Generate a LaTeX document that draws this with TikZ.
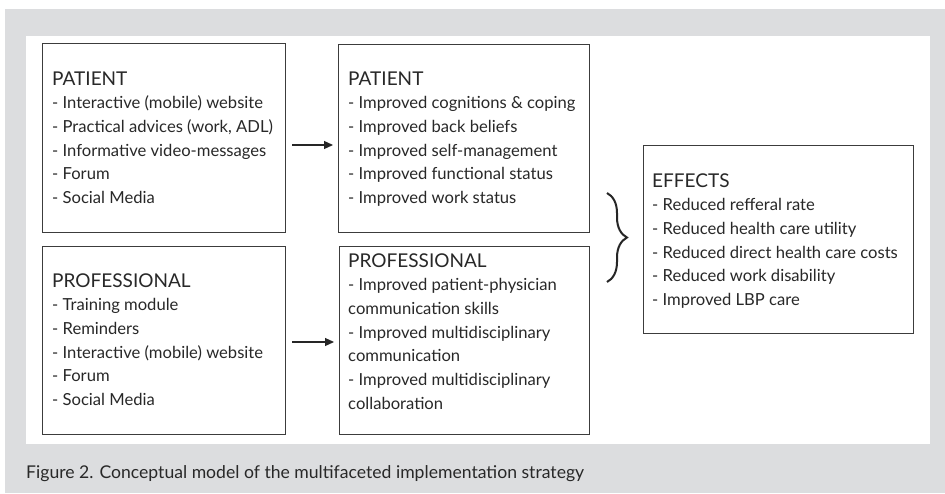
\documentclass[tikz,border=0pt]{standalone}
\usepackage{fontspec}
\setmainfont{Lato}
\usetikzlibrary{arrows.meta,decorations.pathreplacing}
\definecolor{bggray}{RGB}{220,221,223}
\definecolor{boxline}{RGB}{60,60,60}
\definecolor{txt}{RGB}{40,40,40}
\tikzset{
  boxnode/.style={draw=boxline,line width=1.2pt,fill=white,rectangle,inner sep=0pt,anchor=north west},
  listtext/.style={anchor=base west,inner sep=0pt,text=txt,font=\fontsize{16.6}{23.7}\selectfont},
  arr/.style={-{Triangle[length=9pt,width=8pt]},line width=1.2pt,draw=black!85,shorten <=6pt,shorten >=5pt},
}
\newcommand{\hd}[1]{{\fontsize{19}{23.7}\selectfont #1}}
\begin{document}
\begin{tikzpicture}[x=1pt,y=-1pt]
\useasboundingbox (0,0) rectangle (945,493);
\fill[bggray] (5,9) rectangle (945,493);
\fill[white] (26,36) rectangle (930,444);
% boxes
\node[boxnode,minimum width=243pt,minimum height=189pt] (b1) at (42,43) {};
\node[boxnode,minimum width=251pt,minimum height=188pt] (b2) at (338,44) {};
\node[boxnode,minimum width=243pt,minimum height=188pt] (b3) at (42,246) {};
\node[boxnode,minimum width=250pt,minimum height=188pt] (b4) at (339,246) {};
\node[boxnode,minimum width=270pt,minimum height=188pt] (b5) at (643,145) {};
% texts
\node[listtext] (t1) at (52,85) {\begin{tabular}[t]{@{}l@{}}\hd{PATIENT}\\
- Interactive (mobile) website\\
- Practical advices (work, ADL)\\
- Informative video-messages\\
- Forum\\
- Social Media\end{tabular}};
\node[listtext] (t2) at (348,85) {\begin{tabular}[t]{@{}l@{}}\hd{PATIENT}\\
- Improved cognitions \& coping\\
- Improved back beliefs\\
- Improved self-management\\
- Improved functional status\\
- Improved work status\end{tabular}};
\node[listtext] (t3) at (52,287) {\begin{tabular}[t]{@{}l@{}}\hd{PROFESSIONAL}\\
- Training module\\
- Reminders\\
- Interactive (mobile) website\\
- Forum\\
- Social Media\end{tabular}};
\node[listtext] (t4) at (348,267) {\begin{tabular}[t]{@{}l@{}}\hd{PROFESSIONAL}\\
- Improved patient-physician\\
communication skills\\
- Improved multidisciplinary\\
communication\\
- Improved multidisciplinary\\
collaboration\end{tabular}};
\node[listtext] (t5) at (652,187) {\begin{tabular}[t]{@{}l@{}}\hd{EFFECTS}\\
- Reduced refferal rate\\
- Reduced health care utility\\
- Reduced direct health care costs\\
- Reduced work disability\\
- Improved LBP care\end{tabular}};
% arrows
\draw[arr] (b1.east |- 0,145) -- (b2.west |- 0,145);
\draw[arr] (b3.east |- 0,342) -- (b4.west |- 0,342);
% brace
\coordinate (bt) at (607,193);
\coordinate (bb) at (607,282);
\draw[decorate,decoration={brace,amplitude=20pt,aspect=0.5},line width=2pt,draw=black!85] (bt) -- (bb);
% caption
\node[anchor=base west,inner sep=0pt,text=txt,font=\fontsize{17.6}{20}\selectfont] (cap) at (26,478) {Figure 2. Conceptual model of the multifaceted implementation strategy};
\end{tikzpicture}
\end{document}
